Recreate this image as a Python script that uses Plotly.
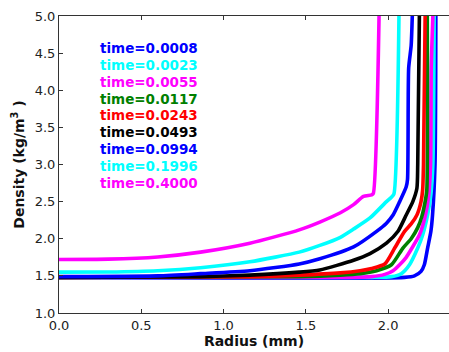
import plotly.graph_objects as go

times = ["0.0008", "0.0023", "0.0055", "0.0117", "0.0243", "0.0493", "0.0994", "0.1996", "0.4000"]
colors = ["#0000ff", "#00ffff", "#ff00ff", "#008000", "#ff0000", "#000000", "#0000ff", "#00ffff", "#ff00ff"]

r_0008 = [0, 2.1, 2.16, 2.2, 2.22, 2.24, 2.26, 2.27, 2.285, 2.29]
d_0008 = [1.48, 1.48, 1.50, 1.56, 1.65, 1.875, 2.1, 2.32, 3.0, 5.0]

r_0023 = [0, 1.9, 2.02, 2.08, 2.13, 2.18, 2.21, 2.24, 2.26, 2.272, 2.28]
d_0023 = [1.48, 1.48, 1.49, 1.53, 1.65, 1.875, 2.05, 2.32, 2.6, 3.0, 5.0]

r_0055 = [0, 1.71, 1.9, 1.98, 2.03, 2.07, 2.11, 2.145, 2.19, 2.225, 2.245, 2.258, 2.262, 2.272]
d_0055 = [1.48, 1.48, 1.49, 1.52, 1.57, 1.65, 1.75, 1.875, 2.05, 2.3, 2.55, 3.0, 4.3, 5.0]

r_0117 = [0, 1.46, 1.71, 1.83, 1.93, 2.02, 2.09, 2.14, 2.18, 2.205, 2.225, 2.235, 2.238]
d_0117 = [1.48, 1.49, 1.51, 1.53, 1.57, 1.65, 1.875, 2.0, 2.15, 2.3, 2.5, 2.65, 5.0]

r_0243 = [0, 1.16, 1.46, 1.71, 1.83, 1.9, 1.98, 2.04, 2.1, 2.14, 2.175, 2.2, 2.21, 2.215, 2.225]
d_0243 = [1.48, 1.49, 1.51, 1.54, 1.57, 1.6, 1.66, 1.875, 2.1, 2.2, 2.32, 2.5, 2.66, 3.0, 5.0]

r_0493 = [0, 0.86, 1.16, 1.46, 1.585, 1.79, 1.89, 1.99, 2.06, 2.11, 2.15, 2.175, 2.18, 2.19]
d_0493 = [1.48, 1.49, 1.51, 1.55, 1.58, 1.71, 1.80, 1.94, 2.1, 2.32, 2.5, 2.68, 3.0, 5.0]

r_0994 = [0, 0.6, 0.86, 1.16, 1.46, 1.585, 1.79, 1.93, 1.99, 2.03, 2.07, 2.11, 2.118, 2.125, 2.14, 2.147]
d_0994 = [1.49, 1.50, 1.53, 1.57, 1.66, 1.73, 1.89, 2.10, 2.21, 2.32, 2.5, 2.7, 2.8, 4.3, 4.6, 5.0]

r_1996 = [0, 0.3, 0.6, 0.86, 1.16, 1.46, 1.585, 1.71, 1.79, 1.89, 1.99, 2.02, 2.035, 2.066]
d_1996 = [1.55, 1.553, 1.57, 1.61, 1.69, 1.82, 1.91, 2.02, 2.13, 2.28, 2.5, 2.56, 2.6, 5.0]

r_4000 = [0, 0.3, 0.6, 0.86, 1.16, 1.46, 1.585, 1.71, 1.79, 1.85, 1.90, 1.91, 1.945]
d_4000 = [1.72, 1.725, 1.755, 1.82, 1.94, 2.12, 2.225, 2.35, 2.46, 2.57, 2.59, 2.61, 5.0]

radii = [r_0008, r_0023, r_0055, r_0117, r_0243, r_0493, r_0994, r_1996, r_4000]
dens = [d_0008, d_0023, d_0055, d_0117, d_0243, d_0493, d_0994, d_1996, d_4000]

x_ticks = [0.0, 0.5, 1.0, 1.5, 2.0]
y_ticks = [1.0, 1.5, 2.0, 2.5, 3.0, 3.5, 4.0, 4.5, 5.0]

fig = go.Figure()
for t, c, xr, yd in zip(times, colors, radii, dens):
    fig.add_trace(go.Scatter(x=xr, y=yd, mode="lines", name="time=" + t,
                             line=dict(color=c, width=3.6, shape="spline", smoothing=0.6),
                             showlegend=False))

font = "DejaVu Sans, Arial, sans-serif"
top_y = 1 - (48.3 - 16) / 297.0
step = 16.8 / 297.0
for i, (t, c) in enumerate(zip(times, colors)):
    fig.add_annotation(x=(98 - 59) / 390.0, y=top_y - i * step, xref="paper", yref="paper",
                       text="<b>time=" + t + "</b>", showarrow=False, xanchor="left",
                       yanchor="middle", font=dict(family=font, size=13.5, color=c))

axis_common = dict(showline=True, linecolor="#333333", linewidth=1, ticks="inside",
                   ticklen=4, tickcolor="#333333", showgrid=False, zeroline=False,
                   automargin=False,
                   tickfont=dict(family=font, size=13, color="#222222"))

fig.update_xaxes(range=[0, 2.37], tickvals=x_ticks, tickformat=".1f", mirror="ticks",
                 title=dict(text="<b>Radius (mm)</b>", font=dict(family=font, size=14, color="#111111"),
                            standoff=2), **axis_common)
fig.update_yaxes(range=[1, 5], tickvals=y_ticks, tickformat=".1f",
                 title=dict(text="<b>Density (kg/m<sup>3</sup> )</b>",
                            font=dict(family=font, size=14, color="#111111"), standoff=6),
                 **axis_common)

fig.update_layout(width=449, height=352, margin=dict(l=59, r=0, t=16, b=39),
                  paper_bgcolor="white", plot_bgcolor="white", showlegend=False)

fig.write_html("out.html", config={"displayModeBar": False},
               post_script="document.body.style.margin='0';document.body.style.overflow='hidden';")
